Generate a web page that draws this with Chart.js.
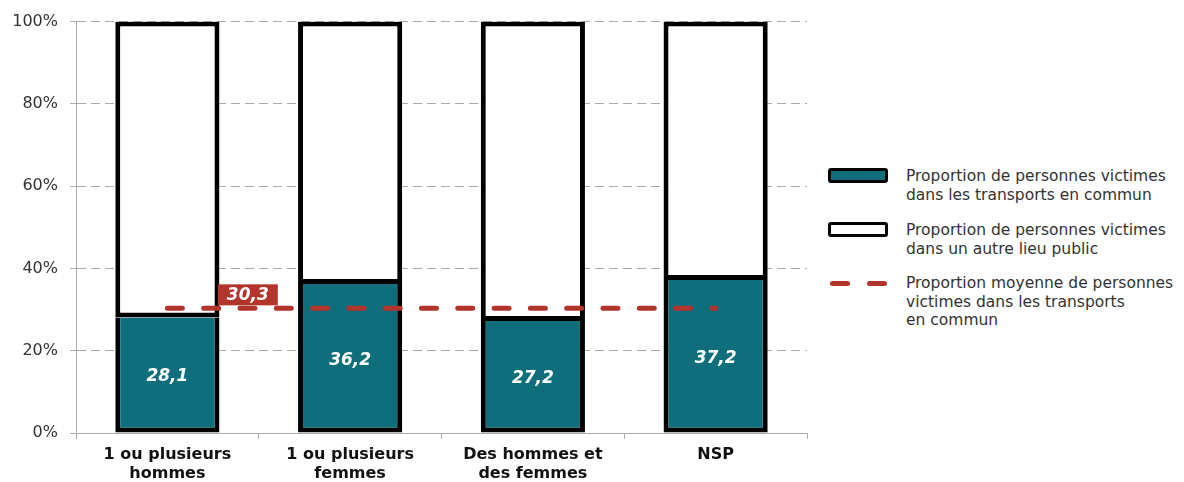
<!DOCTYPE html>
<html>
<head>
<meta charset="utf-8">
<script src="https://cdn.jsdelivr.net/npm/chart.js@4"></script>
<style>
  body { margin: 0; background: #fff; font-family: "DejaVu Sans", Verdana, sans-serif; }
  #wrap { position: relative; width: 1184px; height: 482px; }
  #chartBox { position: absolute; left: 0; top: 0; width: 820px; height: 482px; }
  .legend { position: absolute; left: 828px; top: 0; font-size: 15.5px; color: #333; line-height: 18.5px; }
  .legend .item { position: absolute; left: 0; width: 360px; }
  .legend .sym { position: absolute; left: 0; }
  .legend .txt { position: absolute; left: 78px; white-space: nowrap; }
  .box { width: 54px; height: 9px; border: 3px solid #000; border-radius: 3px; }
  .dash { position: absolute; top: 0; width: 20px; height: 5px; border-radius: 3px; background: #b3342b; }
</style>
</head>
<body>
<div id="wrap">
  <div id="chartBox"><canvas id="chart" width="820" height="482"></canvas></div>
  <div class="legend">
    <div class="item" style="top:168px">
      <div class="sym box" style="background:#0e6e7c"></div>
      <div class="txt" style="top:-1px">Proportion de personnes victimes<br>dans les transports en commun</div>
    </div>
    <div class="item" style="top:222px">
      <div class="sym box" style="background:#fff"></div>
      <div class="txt" style="top:-1px">Proportion de personnes victimes<br>dans un autre lieu public</div>
    </div>
    <div class="item" style="top:281px">
      <div class="dash" style="left:2px"></div>
      <div class="dash" style="left:39px"></div>
      <div class="txt" style="top:-7px">Proportion moyenne de personnes<br>victimes dans les transports<br>en commun</div>
    </div>
  </div>
</div>
<script>
const categories = [
  ["1 ou plusieurs", "hommes"],
  ["1 ou plusieurs", "femmes"],
  ["Des hommes et", "des femmes"],
  ["NSP"]
];
const transportValues = [28.1, 36.2, 27.2, 37.2];
const otherPlaceValues = [71.9, 63.8, 72.8, 62.8];
const averageValue = 30.3;
const averageLine = [averageValue, averageValue, averageValue, averageValue];
const yTicks = [0, 20, 40, 60, 80, 100];

const teal = "#0e6e7c";
const red = "#b3342b";
const font = "'DejaVu Sans', Verdana, sans-serif";

const fmt = v => v.toFixed(1).replace(".", ",");

// value labels inside teal bars + average tag
const labelPlugin = {
  id: "labels",
  afterDatasetsDraw(chart) {
    const ctx = chart.ctx;
    const meta = chart.getDatasetMeta(0);
    ctx.save();
    ctx.font = "italic bold 17px " + font;
    ctx.fillStyle = "#fff";
    ctx.textAlign = "center";
    ctx.textBaseline = "middle";
    meta.data.forEach((bar, i) => {
      const y = (bar.y + bar.base) / 2;
      ctx.fillText(fmt(transportValues[i]), bar.x, y + 2);
    });

    const xs = chart.scales.x, ys = chart.scales.y;
    const cx = xs.getPixelForValue(0.44);
    const ly = ys.getPixelForValue(averageValue);
    ctx.fillStyle = red;
    ctx.fillRect(cx - 30, ly - 24, 60, 21);
    ctx.fillStyle = "#fff";
    ctx.fillText(fmt(averageValue), cx, ly - 13);
    ctx.restore();
  }
};

new Chart(document.getElementById("chart"), {
  data: {
    labels: categories,
    datasets: [
      {
        type: "bar",
        data: transportValues,
        backgroundColor: teal,
        borderColor: "#000",
        borderWidth: 5,
        borderSkipped: "top",
        order: 1
      },
      {
        type: "bar",
        data: otherPlaceValues,
        backgroundColor: "#fff",
        borderColor: "#000",
        borderWidth: 5,
        borderSkipped: false,
        order: 1
      },
      {
        type: "line",
        data: averageLine,
        borderColor: red,
        borderWidth: 5,
        borderDash: [15, 21.3],
        borderCapStyle: "round",
        pointRadius: 0,
        stack: "avg",
        order: 0
      }
    ]
  },
  options: {
    responsive: false,
    maintainAspectRatio: false,
    animation: false,
    devicePixelRatio: 1,
    layout: { padding: { top: 18, right: 13, left: 0, bottom: 0 } },
    datasets: { bar: { categoryPercentage: 1, barPercentage: 0.57, stack: "s" } },
    plugins: {
      legend: { display: false },
      tooltip: { enabled: false }
    },
    scales: {
      x: {
        stacked: true,
        offset: true,
        grid: { display: true, drawOnChartArea: false, offset: true, tickLength: 6, color: "#aaa" },
        border: { color: "#aaa", width: 1 },
        ticks: { color: "#111", padding: 6, autoSkip: false, font: { family: font, size: 16, weight: "bold" }, maxRotation: 0 },
        afterFit(s) { s.height = 49; }
      },
      y: {
        stacked: true,
        min: 0,
        max: 100,
        afterBuildTicks(s) { s.ticks = yTicks.map(v => ({ value: v })); },
        grid: { color: "#aaa", tickLength: 6, tickBorderDash: [] },
        border: { color: "#aaa", width: 1, dash: [9, 5] },
        ticks: { color: "#333", padding: 12, font: { family: font, size: 16 }, callback: v => v + "%" },
        afterFit(s) { s.width = 76; }
      }
    }
  },
  plugins: [labelPlugin]
});
</script>
</body>
</html>
